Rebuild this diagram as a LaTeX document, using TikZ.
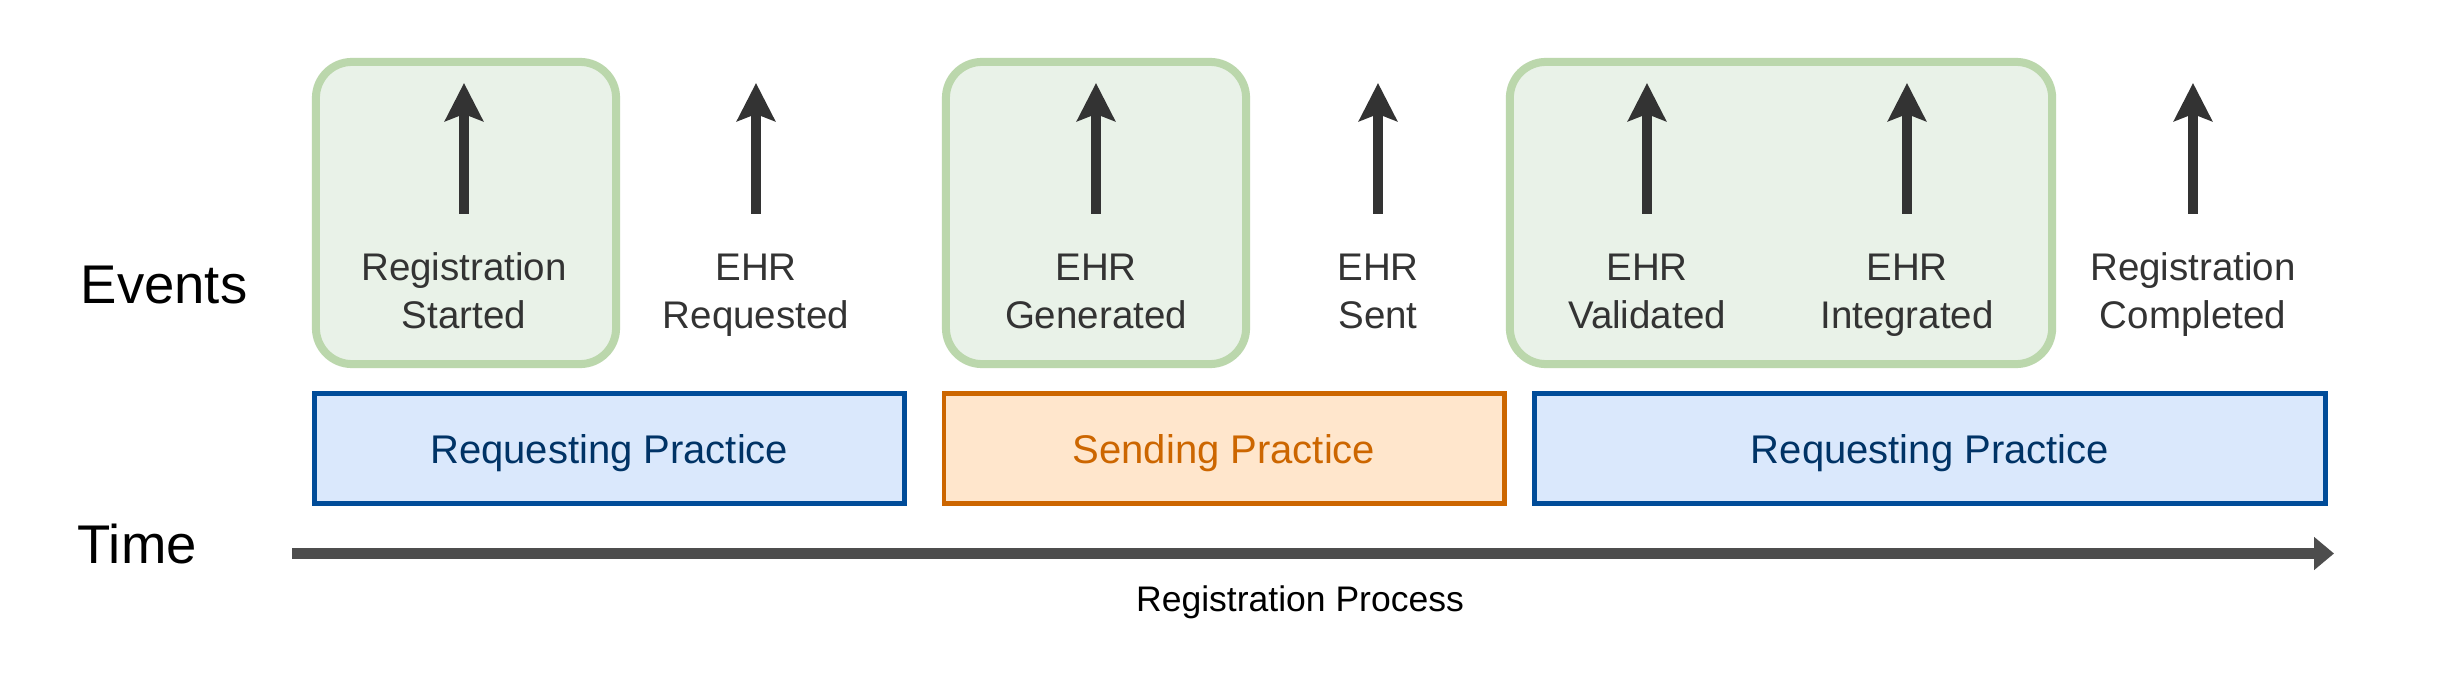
\documentclass[tikz,border=0pt]{standalone}
\usepackage{fontspec}
\setmainfont{Liberation Sans}
\usetikzlibrary{arrows.meta}
\definecolor{grfill}{RGB}{233,242,232}
\definecolor{grline}{RGB}{187,215,172}
\definecolor{blfill}{HTML}{DAE8FC}
\definecolor{blline}{HTML}{004C99}
\definecolor{bltext}{HTML}{003366}
\definecolor{orfill}{HTML}{FFE6CC}
\definecolor{orline}{HTML}{CC6600}
\definecolor{evtext}{HTML}{333333}
\definecolor{arrowc}{HTML}{333333}
\definecolor{timec}{HTML}{4D4D4D}
\begin{document}
\begin{tikzpicture}[x=0.01cm,y=-0.01cm,
  grbox/.style={draw=grline, fill=grfill, line width=0.08cm, rounded corners=0.36cm,
    minimum width=#1, minimum height=3.02cm, inner sep=0pt},
  phase/.style={line width=0.047cm, minimum width=#1, minimum height=1.1cm, inner sep=0pt,
    font=\fontsize{11.38}{13.6}\selectfont, text height=0.29cm, text depth=0cm},
  bluephase/.style={phase=#1, draw=blline, fill=blfill, text=bltext},
  orangephase/.style={phase=#1, draw=orline, fill=orfill, text=orline},
  evarrow/.style={draw=arrowc, line width=0.1cm, -{Stealth[length=0.38cm, width=0.38cm, inset=0.07cm]}},
  evlabel/.style={text=evtext, font=\fontsize{10.95}{13.37}\selectfont, align=center, inner sep=0pt},
  rowlabel/.style={text=black, font=\fontsize{15.5}{18}\selectfont, inner sep=0pt, anchor=base west},
  timeline/.style={draw=timec, line width=0.107cm, -{Triangle[length=0.2cm, width=0.32cm]}}
]
\fill[white] (0,0) rectangle (2455,676);
\useasboundingbox (0,0) rectangle (2455,676);

% green groups
\node[grbox=3cm] (g1) at (466,213) {};
\node[grbox=3cm] (g2) at (1096,213) {};
\node[grbox=5.42cm] (g3) at (1781,213) {};

% row labels
\node[rowlabel] (events) at (80,304) {Events};
\node[rowlabel] (time) at (77,563) {Time};

% event arrows
\foreach \i/\x in {1/464, 2/756, 3/1096, 4/1378, 5/1647, 6/1907, 7/2193}{
  \coordinate (a\i b) at (\x,214);
  \coordinate (a\i t) at (\x,83);
  \draw[evarrow] (a\i b) -- (a\i t);
}

% event labels (base = baseline of the last line)
\node[evlabel, anchor=base] (e1) at (464,328) {Registration\\Started};
\node[evlabel, anchor=base] (e2) at (756,328) {EHR\\Requested};
\node[evlabel, anchor=base] (e3) at (1096,328) {EHR\\Generated};
\node[evlabel, anchor=base] (e4) at (1378,328) {EHR\\Sent};
\node[evlabel, anchor=base] (e5) at (1647,328) {EHR\\Validated};
\node[evlabel, anchor=base] (e6) at (1907,328) {EHR\\Integrated};
\node[evlabel, anchor=base] (e7) at (2193,328) {Registration\\Completed};

% phases
\node[bluephase=5.895cm] (p1) at (609.25,448.5) {Requesting Practice};
\node[orangephase=5.6cm] (p2) at (1224,448.5) {Sending Practice};
\node[bluephase=7.9cm] (p3) at (1930,448.5) {Requesting Practice};

% time axis
\coordinate (t0) at (292,553.5);
\coordinate (t1) at (2334,553.5);
\draw[timeline] (t0) -- (t1);
\node[inner sep=0pt, anchor=base, font=\fontsize{10.1}{12}\selectfont] (proc) at (1300,611) {Registration Process};
\end{tikzpicture}
\end{document}
